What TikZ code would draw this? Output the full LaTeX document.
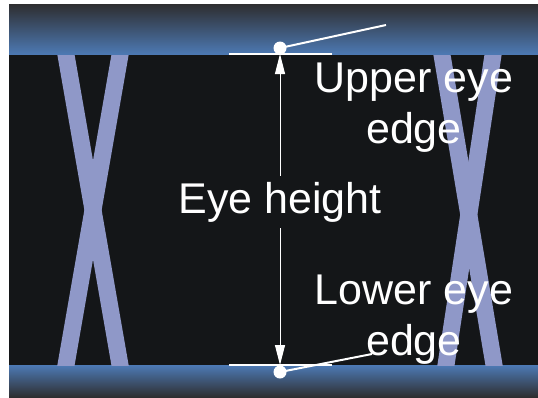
\documentclass[tikz,border=0pt]{standalone}
\usepackage{fontspec}
\setmainfont{Liberation Sans}
\usetikzlibrary{arrows.meta}
\definecolor{eyebg}{HTML}{141618}
\definecolor{strand}{HTML}{8F98C8}
\definecolor{bandblue}{HTML}{4D7AB5}
\definecolor{bandgrey}{HTML}{5E6A85}
\definecolor{banddark}{HTML}{2E2E30}
\begin{document}
\begin{tikzpicture}[x=1pt, y=-1pt,
  every node/.style={font=\fontsize{43}{51}\selectfont, text=white},
  strandline/.style={draw=strand, line width=17pt, shorten <=-12pt, shorten >=-12pt},
  edgeline/.style={draw=white, line width=2.5pt},
  leader/.style={draw=white, line width=2pt},
  arrowline/.style={draw=white, line width=1pt,
    {Triangle[length=20pt,width=10pt]}-{Triangle[length=20pt,width=10pt]}},
  edgedot/.style={circle, fill=white, inner sep=0pt, minimum size=13pt}]
  \useasboundingbox (0,0) rectangle (538,397);
  \fill[white] (0,0) rectangle (538,397);

  % bands and eye opening
  \shade[top color=banddark, middle color=bandgrey, bottom color=bandblue] (9,4) rectangle (538,55);
  \fill[eyebg] (9,55) rectangle (538,365);
  \shade[top color=bandblue, middle color=bandgrey, bottom color=banddark] (9,365) rectangle (538,397);

  % crossing transitions
  \begin{scope}
    \clip (9,55) rectangle (538,365);
    \foreach \xa/\xb in {66/120, 120/66, 442/494, 493/446}
      \path[strandline] (\xa,55) -- (\xb,365);
  \end{scope}

  % eye edges
  \coordinate (upper) at (280,54);
  \coordinate (lower) at (280,365);
  \draw[edgeline] ([xshift=-51pt]upper) -- ([xshift=52pt]upper);
  \draw[edgeline] ([xshift=-51pt]lower) -- ([xshift=52pt]lower);
  \draw[arrowline] (upper) -- (lower);
  \node[fill=eyebg, inner xsep=3pt, inner ysep=6pt, anchor=base] (height) at (280,213) {Eye height};

  \node[edgedot] (updot) at (280,48) {};
  \node[edgedot] (lodot) at (280,372) {};

  % base anchor sits on the last line
  \node[anchor=base, align=center] (uptext) at (414,143) {Upper eye\\edge};
  \node[anchor=base, align=center] (lotext) at (414,355) {Lower eye\\edge};

  \coordinate (uptip) at (386,25);
  \coordinate (lotip) at (372,354);
  \draw[leader] (updot.center) -- (uptip);
  \draw[leader] (lodot.center) -- (lotip);
\end{tikzpicture}
\end{document}
